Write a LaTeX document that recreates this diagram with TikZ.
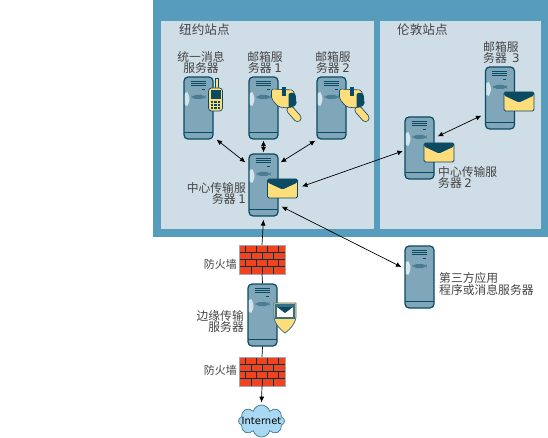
\documentclass[tikz,border=0pt]{standalone}
\usepackage{fontspec}
\setmainfont{DejaVu Sans}
\newfontfamily\cjk{Noto Sans CJK SC}
\usetikzlibrary{arrows.meta,shapes.symbols}
\definecolor{sitebar}{HTML}{559CBD}
\definecolor{sitepanel}{HTML}{CEDDE6}
\definecolor{srvfill}{HTML}{7FA6B9}
\definecolor{srvline}{HTML}{0B4A63}
\definecolor{srvlight}{HTML}{D5E3EA}
\definecolor{mailyellow}{HTML}{FFDD7A}
\definecolor{brickred}{HTML}{F0431F}
\definecolor{cloudblue}{HTML}{A9D9F2}
\definecolor{labelgray}{HTML}{444444}
\tikzset{
  flowarrow/.style={{Latex[length=5.5pt,width=5pt]}-{Latex[length=5.5pt,width=5pt]}, line width=0.7pt},
  oneway/.style={-{Latex[length=6pt,width=5pt]}, line width=0.7pt},
  plainlink/.style={line width=0.7pt},
  sitelabel/.style={font=\fontsize{12.6}{13}\selectfont\cjk, text=labelgray, inner sep=0pt},
  srvlabel/.style={font=\fontsize{11.8}{11.6}\selectfont, text=labelgray, inner sep=0pt},
  server/.style={draw=srvline, fill=srvfill, line width=1.2pt, rounded corners=4pt, minimum width=29pt, minimum height=62pt, inner sep=0pt,
    path picture={
      \begin{scope}[shift={(path picture bounding box.center)}]
        \foreach \yy in {-27,-24.7,-22.3} \draw[srvline, line width=0.7pt] (-8,\yy) -- (7,\yy);
        \draw[srvline, line width=0.7pt] (3,-19) -- (6,-19);
        \fill[srvline!45!srvfill] (-7,-13) rectangle (7,-9);
        \fill[srvlight] (-15,-2) arc (-90:90:6 and -7) -- cycle;
        \draw[srvline, line width=0.6pt] (-15,24) -- (15,24);
      \end{scope}
    }},
  envelope/.style={draw=srvline, fill=mailyellow, line width=0.8pt, rounded corners=1.5pt, minimum width=30pt, minimum height=19pt, inner sep=0pt,
    path picture={
      \begin{scope}[shift={(path picture bounding box.center)}]
        \fill[srvline] (-15,-9.5) -- (15,-9.5) -- (15,-6) -- (0,1) -- (-15,-6) -- cycle;
      \end{scope}
    }},
  firewall/.style={fill=brickred, minimum width=46pt, minimum height=29pt, inner sep=0pt, draw=gray!70, line width=0.5pt,
    path picture={
      \begin{scope}[shift={(path picture bounding box.center)}, srvline!70!black, line width=0.6pt]
        \foreach \yy in {-7.25,0,7.25} \draw (-23,\yy) -- (23,\yy);
        \foreach \xx in {-17,-6,5,16} {
          \draw (\xx,-14.5) -- (\xx,-7.25);
          \draw (\xx,0) -- (\xx,7.25);
        }
        \foreach \xx in {-11,0,11} {
          \draw (\xx,-7.25) -- (\xx,0);
          \draw (\xx,7.25) -- (\xx,14.5);
        }
      \end{scope}
    }},
  netcloud/.style={cloud, cloud puffs=8, aspect=1.5, draw=srvline!60!cloudblue, fill=cloudblue, line width=0.8pt, minimum width=46pt, minimum height=32pt, inner sep=0pt},
  mailbox/.pic={
    \draw[srvline, line width=8pt, line cap=round] (27,2) -- (34,10);
    \draw[mailyellow, line width=6.4pt, line cap=round] (27,2) -- (34,10);
    \draw[srvline, fill=mailyellow, line width=0.6pt, rounded corners=2pt] (8,-19) -- (30,-18) -- (33,-3) -- (25,0) -- (15,-1) -- (8,-9) -- cycle;
    \fill[srvline, rounded corners=2pt] (25,-15) -- (32,-15) -- (33,-3) -- (25,0) -- cycle;
    \fill[srvline] (18,-21) rectangle (22,-12);
  },
  handset/.pic={
    \draw[srvline, fill=mailyellow, line width=0.5pt] (17,-30) rectangle (20,-19);
    \draw[srvline, fill=mailyellow, line width=0.7pt, rounded corners=3pt] (10,-20) rectangle (24,3);
    \fill[srvline] (12,-18) rectangle (22,-9);
    \foreach \xx in {12,15.5,19} \foreach \yy in {-7,-4,-1} \fill[srvline] (\xx,\yy) rectangle ++(2.5,2);
  },
  shield/.pic={
    \draw[srvline!60!srvfill, fill=mailyellow, line width=0.8pt] (0,0) -- (22,0) -- (22,14) .. controls (21,22) and (15,27) .. (11,30) .. controls (7,27) and (1,22) .. (0,14) -- cycle;
    \fill[srvline!60!srvfill] (1,1) rectangle (21,16);
    \fill[white] (3,4) rectangle (19,14);
    \fill[srvline] (3,4) -- (19,4) -- (11,10) -- cycle;
  }
}
\begin{document}
\begin{tikzpicture}[x=1pt, y=-1pt, >=Latex]
  \useasboundingbox (0,0) rectangle (548,438);
  % sites
  \fill[sitebar] (153,0) rectangle (548,237);
  \fill[sitepanel] (161,21) rectangle (374,229);
  \fill[sitepanel] (380,21) rectangle (541,229);
  \node[sitelabel, anchor=west] (nysite) at (179,30) {纽约站点};
  \node[sitelabel, anchor=west] (ldnsite) at (397,30) {伦敦站点};
  % servers
  \node[server] (um) at (198.5,108) {};
  \node[server] (mbx1) at (263.5,108) {};
  \node[server] (mbx2) at (331.5,108) {};
  \node[server] (hub1) at (263.5,185) {};
  \node[server] (hub2) at (419.5,148) {};
  \node[server] (mbx3) at (500,98) {};
  \node[server] (thirdparty) at (419.5,277) {};
  \node[server] (edge) at (262.5,315) {};
  \pic at (um) {handset};
  \pic at (mbx1) {mailbox};
  \pic at (mbx2) {mailbox};
  \pic at (274,303) {shield};
  \node[envelope] (env1) at (282.5,188.5) {};
  \node[envelope] (env2) at (439,152.5) {};
  \node[envelope] (env3) at (519,101.5) {};
  \node[firewall] (fw1) at (262,259.5) {};
  \node[firewall] (fw2) at (262,371.5) {};
  \node[netcloud] (inet) at (261.5,421) {};
  \node[font=\fontsize{10}{10}\selectfont, inner sep=0pt] (inetlabel) at (inet) {Internet};
  % labels
  \node[srvlabel, align=center] (umlabel) at (201,62.5) {\cjk 统一消息\\\cjk 服务器};
  \node[srvlabel, align=center] (mbx1label) at (265,62.5) {\cjk 邮箱服\\\cjk 务器 {\rmfamily 1}};
  \node[srvlabel, align=center] (mbx2label) at (333,62.5) {\cjk 邮箱服\\\cjk 务器 {\rmfamily 2}};
  \node[srvlabel, align=right, anchor=east] (hub1label) at (246,193.5) {\cjk 中心传输服\\\cjk 务器 {\rmfamily 1}};
  \node[srvlabel, align=left, anchor=west] (hub2label) at (438,177.5) {\cjk 中心传输服\\\cjk 务器 {\rmfamily 2}};
  \node[srvlabel, align=left, anchor=west] (mbx3label) at (483,52.5) {\cjk 邮箱服\\\cjk 务器~~{\rmfamily 3}};
  \node[srvlabel, align=left, anchor=west] (thirdlabel) at (439,284) {\cjk 第三方应用\\\cjk 程序或消息服务器};
  \node[srvlabel, align=right, anchor=east] (edgelabel) at (244,321.5) {\cjk 边缘传输\\\cjk 服务器};
  \node[srvlabel, font=\fontsize{11}{11}\selectfont\cjk, anchor=east] (fw1label) at (237,264) {防火墙};
  \node[srvlabel, font=\fontsize{11}{11}\selectfont\cjk, anchor=east] (fw2label) at (237,370) {防火墙};
  % connectors
  \draw[flowarrow] ([shift={(3,0)}]um.south east) -- ([shift={(-3,9)}]hub1.north west);
  \draw[flowarrow] ([yshift=-1pt]mbx1.south) -- ([yshift=1pt]hub1.north);
  \draw[flowarrow] ([shift={(-1,1)}]mbx2.south west) -- ([shift={(2,9)}]hub1.north east);
  \draw[flowarrow] ([shift={(4,-2)}]env1.east) -- ([shift={(-1.5,3)}]hub2.west);
  \draw[flowarrow] ([shift={(3,-10)}]hub1.south east) -- ([shift={(-3,-10)}]thirdparty.west);
  \draw[flowarrow] ([shift={(3,20)}]hub2.north east) -- ([shift={(-3.5,-14)}]mbx3.south west);
  \draw[oneway] (fw1.north) -- ([yshift=-3pt]hub1.south);
  \draw[plainlink] (fw1.south) -- (edge.north);
  \draw[plainlink] (edge.south) -- (fw2.north);
  \draw[oneway] (fw2.south) -- ([yshift=2pt]inet.north);
\end{tikzpicture}
\end{document}
